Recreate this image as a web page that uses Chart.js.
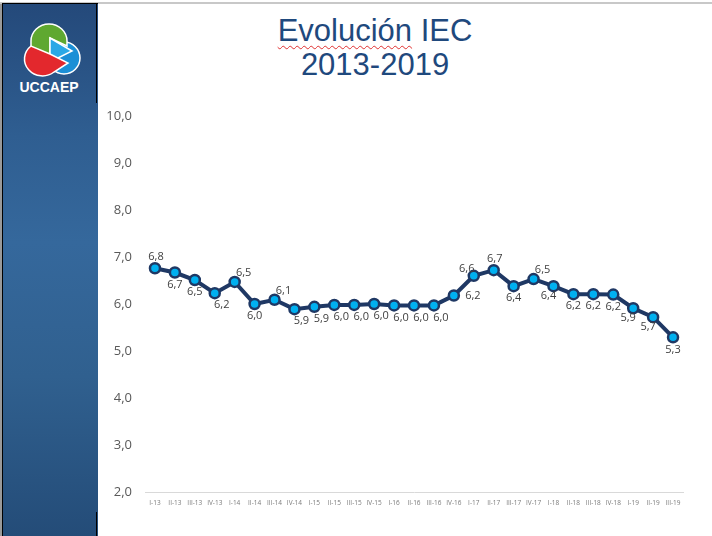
<!DOCTYPE html>
<html>
<head>
<meta charset="utf-8">
<script src="https://cdn.jsdelivr.net/npm/chart.js@4.4.1/dist/chart.umd.min.js"></script>
<style>
  html, body { margin:0; padding:0; background:#fff; }
  #wrap { position:relative; width:712px; height:536px; overflow:hidden; background:#fff; }
  #topline { position:absolute; left:0; top:2px; width:712px; height:2px; background:#c8c8c8; }
  #sidebar { position:absolute; left:2px; top:3px; width:95px; height:533px;
    background:linear-gradient(to bottom, #24497a 0%, #2f5e91 25%, #35689c 45%, #30608f 70%, #244c78 100%);
    border-left:1px solid #000; }
  #sbTop { position:absolute; left:2px; top:3px; width:96px; height:1px; background:#000; }
  #sbRightTop { position:absolute; left:96px; top:3px; width:1px; height:100px; background:#000; }
  #sbRightBot { position:absolute; left:96px; top:512px; width:1px; height:24px; background:#000; }
  #leftEdge { position:absolute; left:0; top:3px; width:2px; height:533px; background:#9a9a9a; }
  #logo { position:absolute; left:0; top:0; }
  .title { position:absolute; left:0; width:750px; text-align:center; font-family:"Liberation Sans", Arial, sans-serif;
    font-size:31px; color:#1F497D; line-height:34px; }
  #t1 { top:14px; }
  #t2 { top:48px; }
  .sq { text-decoration: underline wavy #e03030; text-decoration-thickness:1px; text-underline-offset:4px; }
  canvas { position:absolute; left:0; top:0; }
</style>
</head>
<body>
<div id="wrap">
  <div id="sidebar"></div>
  <div id="leftEdge"></div>
  <div id="topline"></div>
  <div id="sbTop"></div>
  <div id="sbRightTop"></div>
  <div id="sbRightBot"></div>
  <svg id="logo" width="97" height="100" viewBox="0 0 97 100">
    <circle cx="64" cy="58" r="16" fill="#1b8fd6" stroke="#fff" stroke-width="1.5"/>
    <path d="M31,58 L31,41 A18,17 0 0 1 67,41 L67,46 L50,38 L50,58 Z" fill="#5fa830" stroke="#fff" stroke-width="1.5"/>
    <path d="M50,38 L72,51 L50,62 Z" fill="#2aa8e6" stroke="#fff" stroke-width="1.5"/>
    <path d="M50,54 L68,63 L54,72 A16,15 0 1 1 31,46 Z" fill="#e3282d" stroke="#fff" stroke-width="1.5"/>
    <text x="49" y="92" text-anchor="middle" font-family="Liberation Sans, Arial, sans-serif" font-weight="bold" font-size="14" fill="#fff">UCCAEP</text>
  </svg>
  <div class="title" id="t1"><span class="sq">Evolución</span> IEC</div>
  <div class="title" id="t2">2013-2019</div>
  <canvas id="c" width="712" height="536"></canvas>
</div>
<script>
const categories = ["I-13","II-13","III-13","IV-13","I-14","II-14","III-14","IV-14","I-15","II-15","III-15","IV-15","I-16","II-16","III-16","IV-16","I-17","II-17","III-17","IV-17","I-18","II-18","III-18","IV-18","I-19","II-19","III-19"];
const iecValues = [6.76, 6.67, 6.51, 6.23, 6.47, 6.00, 6.09, 5.89, 5.94, 5.98, 5.98, 6.00, 5.97, 5.97, 5.97, 6.18, 6.60, 6.72, 6.38, 6.53, 6.38, 6.21, 6.21, 6.20, 5.91, 5.72, 5.29];
const yTicks = [2, 3, 4, 5, 6, 7, 8, 9, 10];
const labelPlacement = ["T","B","B","BR","TR","B","TR","BR","BR","BR","BR","BR","BR","BR","BR","R","TL","T","B","TR","BL","B","B","B","BL","BL","B"];

const placeOffsets = { T:[1,-11], B:[0,12], BR:[7,12], TR:[9,-9], R:[19,0], TL:[-7,-7], BL:[-5,10] };

const dataLabels = {
  id: 'dataLabels',
  afterDatasetsDraw(chart) {
    const ctx = chart.ctx;
    const meta = chart.getDatasetMeta(0);
    ctx.save();
    ctx.font = '11px "Open Sans", sans-serif';
    ctx.fillStyle = '#404040';
    ctx.textAlign = 'center';
    ctx.textBaseline = 'middle';
    meta.data.forEach((pt, i) => {
      const off = placeOffsets[labelPlacement[i]] || [0, -11];
      const txt = iecValues[i].toFixed(1).replace('.', ',');
      ctx.fillText(txt, pt.x + off[0], pt.y + off[1]);
    });
    ctx.restore();
  }
};

new Chart(document.getElementById('c'), {
  type: 'line',
  data: {
    labels: categories,
    datasets: [{
      data: iecValues,
      borderColor: '#1F3864',
      borderWidth: 4,
      tension: 0,
      pointRadius: 5,
      pointBackgroundColor: '#00B0F0',
      pointBorderColor: '#1F3864',
      pointBorderWidth: 2.5,
      fill: false
    }]
  },
  options: {
    responsive: false,
    animation: false,
    events: [],
    layout: { padding: { top: 116, right: 29, left: 0, bottom: 0 } },
    plugins: { legend: { display: false }, tooltip: { enabled: false }, title: { display: false } },
    scales: {
      x: {
        offset: true,
        grid: { display: false, drawTicks: false },
        border: { display: true, color: '#d9d9d9', width: 1 },
        ticks: { autoSkip: false, maxRotation: 0, minRotation: 0, padding: 7,
          font: { family: '"Open Sans", sans-serif', size: 6.5 }, color: '#7a7a7a' },
        afterFit(s) { s.height = 44; }
      },
      y: {
        min: 2, max: 10,
        grid: { display: false, drawTicks: false },
        border: { display: false },
        afterBuildTicks(s) { s.ticks = yTicks.map(v => ({ value: v })); },
        ticks: { padding: 13, color: '#595959',
          font: { family: '"Open Sans", sans-serif', size: 13 },
          callback: v => v.toFixed(1).replace('.', ',') },
        afterFit(s) { s.width = 145; }
      }
    }
  },
  plugins: [dataLabels]
});
</script>
</body>
</html>
